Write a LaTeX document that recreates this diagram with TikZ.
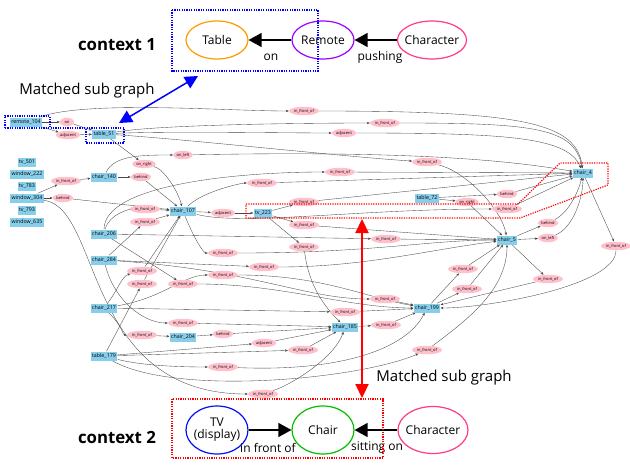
\documentclass[tikz,border=0pt]{standalone}
\usepackage{fontspec}
\setmainfont{Open Sans}
\usetikzlibrary{shapes.geometric,arrows.meta}
\pgfdeclarelayer{bgfill}
\pgfdeclarelayer{edges}
\pgfsetlayers{bgfill,edges,main}
\definecolor{objc}{HTML}{87CEEB}
\definecolor{relc}{HTML}{FFC0CB}
\definecolor{tabc}{HTML}{FF9A00}
\definecolor{remc}{HTML}{A000FF}
\definecolor{chac}{HTML}{FF3A8A}
\definecolor{tvc}{HTML}{0010F0}
\definecolor{chairc}{HTML}{00C000}
\definecolor{bdotc}{HTML}{0000FF}
\definecolor{rdotc}{HTML}{FF0000}
\newcommand\IFO{in\_front\_of}
\begin{document}
\begin{tikzpicture}[x=1pt,y=-1pt,
 obj/.style={rectangle,fill=objc,font=\fontsize{5.3}{6}\selectfont,inner xsep=1.5pt,inner ysep=0pt,minimum height=9pt},
 rel/.style={ellipse,fill=relc,font=\fontsize{4}{5}\selectfont,inner xsep=0.6pt,inner ysep=0pt,minimum height=8.5pt,minimum width=14pt},
 ed/.style={draw=black!72,line width=0.35pt,-{Stealth[length=3pt,width=2.4pt]}},
 cnode/.style={ellipse,draw,line width=1.2pt,inner sep=0pt,font=\fontsize{12}{14}\selectfont},
 bigarr/.style={draw=black,line width=1.4pt,-{Triangle[length=13pt,width=14pt]}},
 clab/.style={font=\fontsize{12}{14}\selectfont,inner sep=0pt},
 ctx/.style={font=\bfseries\fontsize{16.8}{19}\selectfont,inner sep=0pt},
 mlab/.style={font=\fontsize{15}{17}\selectfont,inner sep=0pt},
 bdot/.style={draw=bdotc,line width=1.2pt,dash pattern=on 1.2pt off 1.2pt},
 rdot/.style={draw=rdotc,line width=1.2pt,dash pattern=on 1.2pt off 1.2pt},
]
\useasboundingbox (0,0) rectangle (630,466);
\begin{pgfonlayer}{bgfill}
\fill[white] (0,0) rectangle (630,466);
\end{pgfonlayer}

% ---------- context 1 ----------
\node[ctx] (ctx1) at (117,45) {context 1};
\node[cnode,draw=tabc,minimum width=62pt,minimum height=38pt] (table) at (217,40) {\makebox[0pt]{Table}};
\node[cnode,draw=remc,minimum width=62pt,minimum height=38pt] (remote) at (323,40) {\makebox[0pt]{Remote}};
\node[cnode,draw=chac,minimum width=69pt,minimum height=38pt] (char1) at (432,40) {\makebox[0pt]{Character}};
\draw[bigarr] (remote) -- (table);
\draw[bigarr] (char1) -- (remote);
\node[clab] (lon) at (271,57) {on};
\node[clab] (lpush) at (380,57) {pushing};
\draw[bdot] (172,10) rectangle (318,71);
\node[mlab] (m1) at (87,91) {Matched sub graph};

% ---------- context 2 ----------
\node[ctx] (ctx2) at (117,437) {context 2};
\node[cnode,draw=tvc,minimum width=62pt,minimum height=48pt] (tv) at (217,430) {\makebox[0pt]{\begin{tabular}{@{}c@{}}TV\\[-2pt](display)\end{tabular}}};
\node[cnode,draw=chairc,minimum width=62pt,minimum height=48pt] (chair) at (323,430) {\makebox[0pt]{Chair}};
\node[cnode,draw=chac,minimum width=70pt,minimum height=47pt] (char2) at (433,430) {\makebox[0pt]{Character}};
\draw[bigarr] (tv) -- (chair);
\draw[bigarr] (char2) -- (chair);
\node[clab] (lfront) at (268,448) {in front of};
\node[clab] (lsit) at (377,448) {sitting on};
\draw[rdot] (172,399) rectangle (383,458);
\node[mlab] (m2) at (444,378) {Matched sub graph};

% ---------- object nodes ----------
\node[obj] (remote104) at (26,122) {remote\_104};
\node[obj] (table51) at (104,134) {table\_51};
\node[obj] (tv501) at (27,162) {tv\_501};
\node[obj] (window222) at (27,174) {window\_222};
\node[obj] (tv783) at (27,186) {tv\_783};
\node[obj] (window304) at (27,198) {window\_304};
\node[obj] (tv793) at (27,210) {tv\_793};
\node[obj] (window635) at (27,222) {window\_635};
\node[obj] (chair140) at (104,177) {chair\_140};
\node[obj] (chair107) at (183,211) {chair\_107};
\node[obj] (tv223) at (263,213) {tv\_223};
\node[obj] (chair206) at (104,234) {chair\_206};
\node[obj] (chair284) at (104,260) {chair\_284};
\node[obj] (chair217) at (104,308) {chair\_217};
\node[obj] (chair204) at (183,337) {chair\_204};
\node[obj] (table179) at (104,356) {table\_179};
\node[obj] (chair185) at (345,327) {chair\_185};
\node[obj] (chair199) at (427,308) {chair\_199};
\node[obj] (chair5) at (507,240) {chair\_5};
\node[obj] (chair4) at (583,173) {chair\_4};
\node[obj] (table72) at (427,198) {table\_72};

% ---------- relation nodes ----------
\node[rel] (ron) at (67,122) {on};
\node[rel] (radj1) at (68,135) {adjacent};
\node[rel] (rt1) at (304,111) {\IFO};
\node[rel] (rt2) at (385,123) {\IFO};
\node[rel] (radj2) at (344,133) {adjacent};
\node[rel] (ror1) at (144,164) {on\_right};
\node[rel] (rol1) at (183,155) {on\_left};
\node[rel] (rf1) at (66,181) {\IFO};
\node[rel] (rb1) at (141,177) {behind};
\node[rel] (rb2) at (63,198) {behind};
\node[rel] (rf2) at (145,209) {\IFO};
\node[rel] (rf3) at (145,222) {\IFO};
\node[rel] (rf4) at (427,162) {\IFO};
\node[rel] (rf5) at (340,172) {\IFO};
\node[rel] (rf6) at (262,183) {\IFO};
\node[rel] (radj3) at (223,213) {adjacent};
\node[rel] (rf7) at (304,202) {\IFO};
\node[rel] (rf8) at (304,225) {\IFO};
\node[rel] (rb3) at (507,194) {behind};
\node[rel] (ror2) at (467,202) {on\_right};
\node[rel] (rf9) at (507,209) {\IFO};
\node[rel] (rb4) at (548,223) {behind};
\node[rel] (rol2) at (548,238) {on\_left};
\node[rel] (rf10) at (616,246) {\IFO};
\node[rel] (rf11) at (386,239) {\IFO};
\node[rel] (rf12) at (304,247) {\IFO};
\node[rel] (rf13) at (223,253) {\IFO};
\node[rel] (rf14) at (264,267) {\IFO};
\node[rel] (rf15) at (463,269) {\IFO};
\node[rel] (rf16) at (142,271) {\IFO};
\node[rel] (rf17) at (223,275) {\IFO};
\node[rel] (rf18) at (548,279) {\IFO};
\node[rel] (rf19) at (142,284) {\IFO};
\node[rel] (rf20) at (183,284) {\IFO};
\node[rel] (rf21) at (467,289) {\IFO};
\node[rel] (rf22) at (385,299) {\IFO};
\node[rel] (rf23) at (345,312) {\IFO};
\node[rel] (rf24) at (183,323) {\IFO};
\node[rel] (rf25) at (386,325) {\IFO};
\node[rel] (rf26) at (142,335) {\IFO};
\node[rel] (rb5) at (223,334) {behind};
\node[rel] (radj4) at (264,343) {adjacent};
\node[rel] (rf27) at (303,350) {\IFO};
\node[rel] (rf28) at (427,350) {\IFO};
\node[rel] (rf29) at (223,367) {\IFO};
\node[rel] (rf30) at (263,394) {\IFO};

% ---------- edges ----------
\begin{pgfonlayer}{edges}
\draw[ed] (remote104) -- (ron);
\draw[ed] (ron) -- (table51);
\draw[ed] (remote104) -- (radj1);
\draw[ed] (radj1) -- (table51);
\draw[ed] (remote104) .. controls +(60,-22) and +(-80,0) .. (rt1);
\draw[ed] (rt1) .. controls +(220,0) and +(-6,-50) .. (chair4);
\draw[ed] (table51) .. controls +(60,-10) and +(-60,0) .. (rt2);
\draw[ed] (rt2) .. controls +(150,0) and +(-8,-45) .. (chair4);
\draw[ed] (table51) .. controls +(60,-3) and +(-60,0) .. (radj2);
\draw[ed] (radj2) .. controls +(170,0) and +(-15,-35) .. (chair4);
\draw[ed] (table51) .. controls +(80,5) and +(-80,-5) .. (rf4);
\draw[ed] (rf4) .. controls +(40,10) and +(-5,-30) .. (chair5);
\draw[ed] (table51) -- (ror1);
\draw[ed] (ror1) .. controls +(20,5) and +(-5,-20) .. (chair107);
\draw[ed] (chair140) .. controls +(10,-22) and +(-40,0) .. (rol1);
\draw[ed] (rol1) .. controls +(250,-5) and +(-60,-10) .. (chair4);
\draw[ed] (window304) -- (rf1);
\draw[ed] (rf1) -- (chair140);
\draw[ed] (window304) -- (rb2);
\draw[ed] (rb2) -- (chair107);
\draw[ed] (chair140) -- (rb1);
\draw[ed] (rb1) -- (chair107);
\draw[ed] (window304) .. controls +(75,10) and +(-180,0) .. (rf30);
\draw[ed] (rf30) .. controls +(30,-10) and +(-10,30) .. (chair185);
\draw[ed] (chair206) .. controls +(5,-20) and +(-15,0) .. (rf2);
\draw[ed] (rf2) -- (chair107);
\draw[ed] (chair284) -- (rf3);
\draw[ed] (rf3) -- (chair107);
\draw[ed] (chair206) -- (rf11);
\draw[ed] (rf11) -- (chair5);
\draw[ed] (chair206) -- (rf20);
\draw[ed] (rf20) .. controls +(100,0) and +(-80,0) .. (chair199);
\draw[ed] (chair284) -- (rf14);
\draw[ed] (rf14) .. controls +(100,0) and +(-80,10) .. (chair5);
\draw[ed] (chair284) .. controls +(10,40) and +(-40,0) .. (rf24);
\draw[ed] (rf24) -- (chair185);
\draw[ed] (chair217) .. controls +(15,-20) and +(-20,5) .. (rf16);
\draw[ed] (rf16) -- (chair107);
\draw[ed] (chair217) .. controls +(60,-10) and +(-40,0) .. (rf17);
\draw[ed] (rf17) .. controls +(100,0) and +(-60,-10) .. (chair199);
\draw[ed] (chair217) .. controls +(20,20) and +(-20,0) .. (rf26);
\draw[ed] (rf26) -- (chair204);
\draw[ed] (chair217) -- (rf23);
\draw[ed] (rf23) -- (chair199);
\draw[ed] (table179) -- (rf19);
\draw[ed] (rf19) -- (chair107);
\draw[ed] (chair204) -- (rb5);
\draw[ed] (rb5) -- (chair185);
\draw[ed] (table179) -- (radj4);
\draw[ed] (radj4) -- (chair185);
\draw[ed] (table179) -- (rf27);
\draw[ed] (rf27) -- (chair185);
\draw[ed] (table179) .. controls +(40,10) and +(-40,0) .. (rf29);
\draw[ed] (rf29) .. controls +(120,5) and +(-20,40) .. (chair199);
\draw[ed] (table179) .. controls +(70,40) and +(-70,30) .. (rf28);
\draw[ed] (rf28) .. controls +(40,-30) and +(0,50) .. (chair5);
\draw[ed] (chair107) .. controls +(10,25) and +(-20,0) .. (rf13);
\draw[ed] (rf13) .. controls +(150,0) and +(-80,0) .. (chair5);
\draw[ed] (chair107) .. controls +(20,-20) and +(-20,0) .. (rf6);
\draw[ed] (rf6) -- (chair4);
\draw[ed] (chair206) .. controls +(0,-50) and +(-100,0) .. (rf5);
\draw[ed] (rf5) -- (chair4);
\draw[ed] (chair107) -- (radj3);
\draw[ed] (radj3) -- (tv223);
\draw[ed] (tv223) -- (rf7);
\draw[ed] (rf7) -- (chair4);
\draw[ed] (tv223) -- (rf8);
\draw[ed] (rf8) -- (chair5);
\draw[ed] (tv223) -- (rf12);
\draw[ed] (rf12) .. controls +(5,40) and +(-20,-20) .. (chair185);
\draw[ed] (table72) -- (rb3);
\draw[ed] (rb3) -- (chair4);
\draw[ed] (table72) -- (ror2);
\draw[ed] (ror2) -- (chair5);
\draw[ed] (chair107) .. controls +(60,15) and +(-150,0) .. (rf9);
\draw[ed] (rf9) -- (chair4);
\draw[ed] (chair5) -- (rb4);
\draw[ed] (rb4) .. controls +(20,-10) and +(-5,20) .. (chair4);
\draw[ed] (chair5) -- (rol2);
\draw[ed] (rol2) .. controls +(25,-10) and +(0,25) .. (chair4);
\draw[ed] (chair4) -- (rf10);
\draw[ed] (rf10) .. controls +(0,40) and +(60,0) .. (chair199);
\draw[ed] (chair5) -- (rf18);
\draw[ed] (rf18) -- (chair199);
\draw[ed] (chair199) -- (rf21);
\draw[ed] (rf21) -- (chair5);
\draw[ed] (chair199) -- (rf15);
\draw[ed] (rf15) -- (chair5);
\draw[ed] (chair185) -- (rf25);
\draw[ed] (rf25) -- (chair199);
\draw[ed] (chair284) .. controls +(150,10) and +(-80,0) .. (rf22);
\draw[ed] (rf22) -- (chair199);
\end{pgfonlayer}

% ---------- matched sub graph outlines ----------
\draw[bdot] (5,128) -- (5,116) -- (50,116) -- (50,128);
\draw[bdot] (5,128) -- (124,128) -- (124,143) -- (86,143) -- (86,128);
\draw[rdot] (246,204) -- (518,204) -- (560,163) -- (608,163) -- (608,185) -- (520,218) -- (246,218) -- cycle;

% ---------- match arrows ----------
\coordinate (blow) at (119,123);
\coordinate (bhigh) at (198,76);
\draw[draw=bdotc,line width=1.5pt,{Triangle[length=13pt,width=13pt]}-{Triangle[length=13pt,width=13pt]}] (blow) -- (bhigh);
\coordinate (rhigh) at (362,219);
\coordinate (rlow) at (362,398);
\draw[draw=rdotc,line width=2.2pt,{Triangle[length=14pt,width=13pt]}-{Triangle[length=14pt,width=13pt]}] (rhigh) -- (rlow);
\end{tikzpicture}
\end{document}
